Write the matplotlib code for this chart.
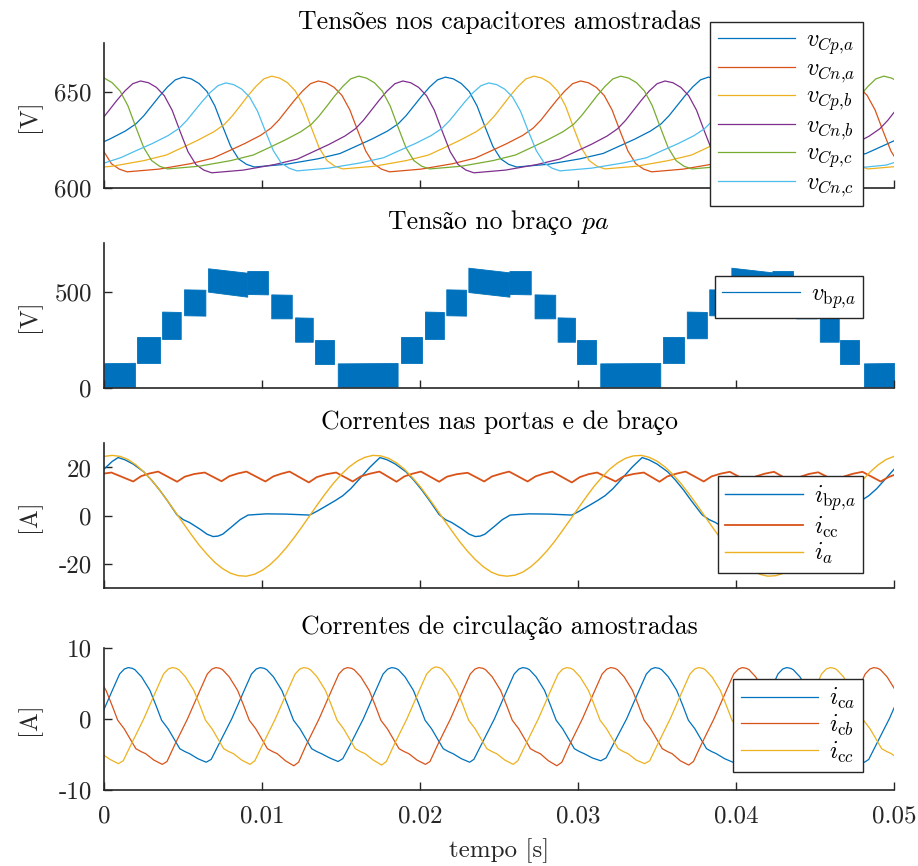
import numpy as np
import matplotlib
matplotlib.use("Agg")
import matplotlib.pyplot as plt
from matplotlib.lines import Line2D

# ---- data (time in ms) ----

# panel 1: capacitor voltages [V]
t_cpa = [-1.67, -0.67, 0.33, 1.33, 2.0, 2.5, 3.0, 3.5, 4.0, 4.5, 5.0, 5.5, 6.0, 6.5, 7.0, 7.5, 8.0, 8.5, 9.0, 9.5, 11.5, 13.5,
         14.93, 15.93, 16.93, 17.93, 18.6, 19.1, 19.6, 20.1, 20.6, 21.1, 21.6, 22.1, 22.6, 23.1, 23.6, 24.1, 24.6, 25.1, 25.6, 26.1, 28.1, 30.1,
         31.58, 32.58, 33.58, 34.58, 35.25, 35.75, 36.25, 36.75, 37.25, 37.75, 38.25, 38.75, 39.25, 39.75, 40.25, 40.75, 41.25, 41.75, 42.25, 42.75, 44.75, 46.75,
         48.23, 49.23, 50.23]
v_cpa = [618.0, 621.7, 625.4, 629.6, 633.3, 637.5, 642.6, 647.7, 652.4, 656.1, 657.5, 656.6, 654.2, 650.1, 642.6, 631.9, 621.7, 615.2, 612.4, 611.0, 612.4, 615.2,
         618.0, 621.7, 625.4, 629.6, 633.3, 637.5, 642.6, 647.7, 652.4, 656.1, 657.5, 656.6, 654.2, 650.1, 642.6, 631.9, 621.7, 615.2, 612.4, 611.0, 612.4, 615.2,
         618.0, 621.7, 625.4, 629.6, 633.3, 637.5, 642.6, 647.7, 652.4, 656.1, 657.5, 656.6, 654.2, 650.1, 642.6, 631.9, 621.7, 615.2, 612.4, 611.0, 612.4, 615.2,
         618.0, 621.7, 625.4]

t_cna = [-0.55, -0.05, 0.45, 0.95, 1.45, 3.45, 5.45,
         6.88, 7.88, 8.88, 9.88, 10.55, 11.05, 11.55, 12.05, 12.55, 13.05, 13.55, 14.05, 14.55, 15.05, 15.55, 16.05, 16.55, 17.05, 17.55, 18.05, 20.05, 22.05,
         23.48, 24.48, 25.48, 26.48, 27.15, 27.65, 28.15, 28.65, 29.15, 29.65, 30.15, 30.65, 31.15, 31.65, 32.15, 32.65, 33.15, 33.65, 34.15, 34.65, 36.65, 38.65,
         40.13, 41.13, 42.13, 43.13, 43.8, 44.3, 44.8, 45.3, 45.8, 46.3, 46.8, 47.3, 47.8, 48.3, 48.8, 49.3, 49.8, 50.3]
v_cna = [629.7, 619.3, 612.7, 609.9, 608.5, 609.9, 612.7,
         615.6, 619.3, 623.1, 627.3, 631.1, 635.3, 640.5, 645.6, 650.3, 654.1, 655.5, 654.6, 652.2, 648.0, 640.5, 629.7, 619.3, 612.7, 609.9, 608.5, 609.9, 612.7,
         615.6, 619.3, 623.1, 627.3, 631.1, 635.3, 640.5, 645.6, 650.3, 654.1, 655.5, 654.6, 652.2, 648.0, 640.5, 629.7, 619.3, 612.7, 609.9, 608.5, 609.9, 612.7,
         615.6, 619.3, 623.1, 627.3, 631.1, 635.3, 640.5, 645.6, 650.3, 654.1, 655.5, 654.6, 652.2, 648.0, 640.5, 629.7, 619.3, 612.7]

t_cpb = [-1.5, 0.5, 2.5,
         3.93, 4.93, 5.93, 6.93, 7.6, 8.1, 8.6, 9.1, 9.6, 10.1, 10.6, 11.1, 11.6, 12.1, 12.6, 13.1, 13.6, 14.1, 14.6, 15.1, 17.1, 19.1,
         20.53, 21.53, 22.53, 23.53, 24.2, 24.7, 25.2, 25.7, 26.2, 26.7, 27.2, 27.7, 28.2, 28.7, 29.2, 29.7, 30.2, 30.7, 31.2, 31.7, 33.7, 35.7,
         37.18, 38.18, 39.18, 40.18, 40.85, 41.35, 41.85, 42.35, 42.85, 43.35, 43.85, 44.35, 44.85, 45.35, 45.85, 46.35, 46.85, 47.35, 47.85, 48.35, 50.35]
v_cpb = [610.0, 611.4, 614.3,
         617.2, 621.0, 624.9, 629.2, 633.0, 637.4, 642.6, 647.9, 652.7, 656.6, 658.0, 657.0, 654.6, 650.3, 642.6, 631.6, 621.0, 614.3, 611.4, 610.0, 611.4, 614.3,
         617.2, 621.0, 624.9, 629.2, 633.0, 637.4, 642.6, 647.9, 652.7, 656.6, 658.0, 657.0, 654.6, 650.3, 642.6, 631.6, 621.0, 614.3, 611.4, 610.0, 611.4, 614.3,
         617.2, 621.0, 624.9, 629.2, 633.0, 637.4, 642.6, 647.9, 652.7, 656.6, 658.0, 657.0, 654.6, 650.3, 642.6, 631.6, 621.0, 614.3, 611.4, 610.0, 611.4]

t_cnb = [-1.37, -0.7, -0.2, 0.3, 0.8, 1.3, 1.8, 2.3, 2.8, 3.3, 3.8, 4.3, 4.8, 5.3, 5.8, 6.3, 6.8, 8.8, 10.8,
         12.23, 13.23, 14.23, 15.23, 15.9, 16.4, 16.9, 17.4, 17.9, 18.4, 18.9, 19.4, 19.9, 20.4, 20.9, 21.4, 21.9, 22.4, 22.9, 23.4, 25.4, 27.4,
         28.83, 29.83, 30.83, 31.83, 32.5, 33.0, 33.5, 34.0, 34.5, 35.0, 35.5, 36.0, 36.5, 37.0, 37.5, 38.0, 38.5, 39.0, 39.5, 40.0, 42.0, 44.0,
         45.43, 46.43, 47.43, 48.43, 49.1, 49.6, 50.1]
v_cnb = [627.0, 630.8, 635.1, 640.3, 645.5, 650.3, 654.1, 655.5, 654.6, 652.2, 647.9, 640.3, 629.4, 618.9, 612.3, 609.4, 608.0, 609.4, 612.3,
         615.1, 618.9, 622.7, 627.0, 630.8, 635.1, 640.3, 645.5, 650.3, 654.1, 655.5, 654.6, 652.2, 647.9, 640.3, 629.4, 618.9, 612.3, 609.4, 608.0, 609.4, 612.3,
         615.1, 618.9, 622.7, 627.0, 630.8, 635.1, 640.3, 645.5, 650.3, 654.1, 655.5, 654.6, 652.2, 647.9, 640.3, 629.4, 618.9, 612.3, 609.4, 608.0, 609.4, 612.3,
         615.1, 618.9, 622.7, 627.0, 630.8, 635.1, 640.3]

t_cpc = [-1.5, -1.0, -0.5, 0.0, 0.5, 1.0, 1.5, 2.0, 2.5, 3.0, 3.5, 4.0, 6.0, 8.0,
         9.43, 10.43, 11.43, 12.43, 13.1, 13.6, 14.1, 14.6, 15.1, 15.6, 16.1, 16.6, 17.1, 17.6, 18.1, 18.6, 19.1, 19.6, 20.1, 20.6, 22.6, 24.6,
         26.03, 27.03, 28.03, 29.03, 29.7, 30.2, 30.7, 31.2, 31.7, 32.2, 32.7, 33.2, 33.7, 34.2, 34.7, 35.2, 35.7, 36.2, 36.7, 37.2, 39.2, 41.2,
         42.68, 43.68, 44.68, 45.68, 46.35, 46.85, 47.35, 47.85, 48.35, 48.85, 49.35, 49.85, 50.35]
v_cpc = [652.7, 656.6, 658.0, 657.0, 654.6, 650.3, 642.6, 631.6, 621.0, 614.3, 611.4, 610.0, 611.4, 614.3,
         617.2, 621.0, 624.9, 629.2, 633.0, 637.4, 642.6, 647.9, 652.7, 656.6, 658.0, 657.0, 654.6, 650.3, 642.6, 631.6, 621.0, 614.3, 611.4, 610.0, 611.4, 614.3,
         617.2, 621.0, 624.9, 629.2, 633.0, 637.4, 642.6, 647.9, 652.7, 656.6, 658.0, 657.0, 654.6, 650.3, 642.6, 631.6, 621.0, 614.3, 611.4, 610.0, 611.4, 614.3,
         617.2, 621.0, 624.9, 629.2, 633.0, 637.4, 642.6, 647.9, 652.7, 656.6, 658.0, 657.0, 654.6]

t_cnc = [-2.4, -0.4,
         1.03, 2.03, 3.03, 4.03, 4.7, 5.2, 5.7, 6.2, 6.7, 7.2, 7.7, 8.2, 8.7, 9.2, 9.7, 10.2, 10.7, 11.2, 11.7, 12.2, 14.2, 16.2,
         17.68, 18.68, 19.68, 20.68, 21.35, 21.85, 22.35, 22.85, 23.35, 23.85, 24.35, 24.85, 25.35, 25.85, 26.35, 26.85, 27.35, 27.85, 28.35, 28.85, 30.85, 32.85,
         34.33, 35.33, 36.33, 37.33, 38.0, 38.5, 39.0, 39.5, 40.0, 40.5, 41.0, 41.5, 42.0, 42.5, 43.0, 43.5, 44.0, 44.5, 45.0, 45.5, 47.5, 49.5,
         50.98]
v_cnc = [609.6, 612.0,
         615.8, 619.5, 623.1, 627.2, 630.8, 634.9, 639.9, 644.9, 649.5, 653.1, 654.5, 653.6, 651.3, 647.2, 639.9, 629.5, 619.5, 613.1, 610.4, 609.0, 610.4, 613.1,
         615.8, 619.5, 623.1, 627.2, 630.8, 634.9, 639.9, 644.9, 649.5, 653.1, 654.5, 653.6, 651.3, 647.2, 639.9, 629.5, 619.5, 613.1, 610.4, 609.0, 610.4, 613.1,
         615.8, 619.5, 623.1, 627.2, 630.8, 634.9, 639.9, 644.9, 649.5, 653.1, 654.5, 653.6, 651.3, 647.2, 639.9, 629.5, 619.5, 613.1, 610.4, 609.0, 610.4, 612.0,
         615.8]

# panel 2: arm voltage, switching band per level (start/end time, lower and upper envelope)
vbp_t0 = [0.0, 2.1, 3.66, 5.05, 6.57, 9.05, 10.57, 12.08, 13.37, 14.78, 18.78, 20.3, 21.65, 23.05, 25.65, 27.24, 28.7, 29.95,
          31.4, 35.4, 36.88, 38.3, 39.7, 42.3, 43.8, 45.3, 46.6, 48.1]
vbp_t1 = [1.94, 3.5, 4.84, 6.4, 9.05, 10.36, 11.87, 13.2, 14.53, 18.57, 20.1, 21.5, 22.9, 25.65, 27.0, 28.55, 29.8, 31.13,
          35.2, 36.7, 38.15, 39.55, 42.3, 43.6, 45.1, 46.5, 47.8, 50.0]
vbp_lo0 = [8, 130, 255, 378, 500, 488, 362, 241, 124, 9, 130, 255, 378, 498, 488, 362, 241, 124, 9, 130, 259, 378, 498, 488, 362, 241, 124, 9]
vbp_lo1 = [8, 130, 255, 376, 474, 486, 362, 241, 124, 9, 130, 255, 376, 474, 486, 362, 241, 124, 9, 130, 259, 376, 474, 486, 362, 241, 124, 9]
vbp_hi0 = [130, 267, 397, 512, 621, 607, 486, 367, 250, 129, 267, 397, 512, 624, 607, 486, 367, 250, 129, 265, 397, 512, 624, 607, 486, 367, 250, 129]
vbp_hi1 = [132, 267, 395, 510, 598, 607, 484, 365, 250, 131, 267, 395, 510, 600, 607, 484, 365, 250, 131, 265, 395, 510, 600, 607, 484, 365, 250, 131]

# panel 3: port and arm currents [A]
t_ia = np.linspace(0, 50, 101)
i_a = [24.6, 25.0, 24.6, 23.3, 21.1, 18.2, 14.7, 10.7, 6.2, 1.6,
       -3.1, -7.7, -12.1, -15.9, -19.3, -21.9, -23.8, -24.8, -25.0, -24.2,
       -22.6, -20.2, -17.1, -13.4, -9.2, -4.7, 0.0, 4.7, 9.2, 13.4,
       17.1, 20.2, 22.6, 24.2, 25.0, 24.8, 23.8, 21.9, 19.3, 15.9,
       12.1, 7.7, 3.1, -1.6, -6.2, -10.7, -14.7, -18.2, -21.1, -23.3,
       -24.6, -25.0, -24.6, -23.3, -21.1, -18.2, -14.7, -10.7, -6.2, -1.6,
       3.1, 7.7, 12.1, 15.9, 19.3, 21.9, 23.8, 24.8, 25.0, 24.2,
       22.6, 20.2, 17.1, 13.4, 9.2, 4.7, 0.0, -4.7, -9.2, -13.4,
       -17.1, -20.2, -22.6, -24.2, -25.0, -24.8, -23.8, -21.9, -19.3, -15.9,
       -12.1, -7.7, -3.1, 1.6, 6.2, 10.7, 14.7, 18.2, 21.1, 23.3,
       24.6]

t_ibpa = [0.0, 0.5, 0.88, 1.3, 1.83, 2.5, 3.0, 3.5, 4.0, 4.6, 5.0, 5.4, 6.05, 6.5, 6.89, 7.2, 7.5, 8.15, 8.6, 9.1,
          10.25, 11.5, 13.0, 13.5, 14.05, 14.6, 15.1, 15.6, 16.15, 16.8, 17.45, 17.9, 18.43, 19.1, 19.6, 20.1, 20.6, 21.2, 21.6, 22.0,
          22.65, 23.1, 23.49, 23.8, 24.1, 24.75, 25.2, 25.7, 26.9, 28.2, 29.6, 30.1, 30.65, 31.2, 31.7, 32.2, 32.75, 33.4, 34.05, 34.47,
          35.0, 35.67, 36.17, 36.67, 37.17, 37.85, 38.3, 38.7, 39.35, 39.8, 40.19, 40.5, 40.8, 41.45, 41.9, 42.4, 43.6, 44.9, 46.3, 46.8,
          47.35, 47.9, 48.4, 48.9, 49.45, 50.1]
i_bpa = [19.4, 22.5, 24.1, 23.2, 21.4, 18.2, 14.7, 10.7, 6.2, 0.4, -1.6, -2.8, -5.5, -7.6, -8.6, -8.4, -7.6, -4.1, -1.6, 0.3,
         0.8, 0.7, 0.3, 2.0, 4.1, 6.2, 8.3, 11.2, 15.2, 20.0, 24.1, 23.2, 21.4, 18.2, 14.7, 10.7, 6.2, 0.5, -1.6, -2.8,
         -5.5, -7.6, -8.6, -8.4, -7.6, -4.1, -1.6, 0.3, 0.8, 0.7, 0.3, 2.0, 4.1, 6.2, 8.3, 11.2, 15.2, 20.0, 24.1, 23.2,
         21.4, 18.2, 14.7, 10.7, 6.2, 0.4, -1.6, -2.8, -5.5, -7.6, -8.6, -8.4, -7.6, -4.1, -1.6, 0.3, 0.8, 0.7, 0.3, 2.0,
         4.1, 6.2, 8.3, 11.2, 15.2, 20.0]

t_icc = [0.0, 0.45, 1.83, 2.33, 2.85, 3.41, 4.61, 5.1, 5.7, 6.36, 7.42, 7.92, 8.45, 9.0, 10.2, 10.7, 11.2, 11.73,
         12.95, 13.45, 14.05, 14.68, 15.73, 16.23, 16.8, 17.42, 18.5, 19.0, 19.5, 20.05, 21.2, 21.7, 22.3, 23.0,
         24.05, 24.55, 25.1, 25.63, 26.8, 27.3, 27.8, 28.36, 29.6, 30.1, 30.65, 31.2, 32.37, 32.87, 33.5, 34.16,
         35.15, 35.65, 36.2, 36.8, 37.95, 38.45, 39.0, 39.6, 40.75, 41.25, 41.8, 42.4, 43.55, 44.05, 44.6, 45.2,
         46.35, 46.85, 47.4, 48.0, 49.15, 49.65, 50.0]
i_cc = [17.5, 17.9, 14.2, 16.4, 17.5, 18.3, 14.1, 16.2, 17.3, 17.9, 14.3, 16.4, 17.5, 18.3, 14.2, 16.3, 17.4, 18.3,
        13.8, 16.0, 17.2, 17.9, 14.2, 16.3, 17.4, 18.3, 14.1, 16.3, 17.4, 18.3, 14.1, 16.2, 17.2, 17.8,
        14.2, 16.3, 17.4, 18.3, 14.2, 16.3, 17.4, 18.3, 13.8, 16.0, 17.2, 17.9, 14.2, 16.3, 17.3, 17.9,
        14.1, 16.3, 17.4, 18.3, 14.2, 16.3, 17.4, 18.2, 14.2, 16.3, 17.4, 18.2, 14.0, 16.1, 17.3, 18.0,
        14.2, 16.3, 17.4, 18.2, 14.2, 16.0, 16.9]

# panel 4: circulating currents [A]
t_ca = [-0.28, 0.47, 0.97, 1.27, 1.52, 1.77, 1.94, 2.36, 2.89, 3.27, 3.63, 4.04, 4.78, 5.10, 5.40, 5.92, 6.45,
        6.77, 7.27, 8.07, 8.82, 9.32, 9.62, 9.87, 10.12, 10.29, 10.71, 11.24, 11.62, 11.98, 12.39, 13.13, 13.45, 13.75, 14.27, 14.8,
        15.1, 15.6, 16.4, 17.15, 17.65, 17.95, 18.2, 18.45, 18.62, 19.04, 19.57, 19.95, 20.31, 20.72, 21.46, 21.78, 22.08, 22.6, 23.13,
        23.4, 23.9, 24.7, 25.45, 25.95, 26.25, 26.5, 26.75, 26.92, 27.34, 27.87, 28.25, 28.61, 29.02, 29.76, 30.08, 30.38, 30.9, 31.43,
        31.77, 32.27, 33.07, 33.82, 34.32, 34.62, 34.87, 35.12, 35.29, 35.71, 36.24, 36.62, 36.98, 37.39, 38.13, 38.45, 38.75, 39.27, 39.8,
        40.1, 40.6, 41.4, 42.15, 42.65, 42.95, 43.2, 43.45, 43.62, 44.04, 44.57, 44.95, 45.31, 45.72, 46.46, 46.78, 47.08, 47.6, 48.13,
        48.4, 48.9, 49.7, 50.45]
i_ca = [0.0, 3.8, 6.3, 7.0, 7.2, 7.1, 6.9, 5.9, 4.0, 1.9, -0.2, -1.4, -4.2, -4.6, -4.9, -5.6, -6.1,
        -5.7, -3.5, 0.0, 3.8, 6.3, 7.0, 7.2, 7.1, 6.9, 5.9, 4.0, 1.9, -0.2, -1.4, -4.2, -4.6, -4.9, -5.5, -6.0,
        -5.6, -3.5, 0.0, 3.8, 6.3, 7.0, 7.2, 7.1, 6.9, 5.9, 4.0, 1.9, -0.2, -1.4, -4.2, -4.6, -4.9, -5.6, -6.1,
        -5.7, -3.5, 0.0, 3.8, 6.3, 7.0, 7.2, 7.1, 6.9, 5.9, 4.0, 1.9, -0.2, -1.4, -4.2, -4.6, -4.9, -5.5, -5.9,
        -5.5, -3.4, 0.0, 3.8, 6.3, 7.0, 7.2, 7.1, 6.9, 5.9, 4.0, 1.9, -0.2, -1.4, -4.2, -4.6, -4.9, -5.6, -6.1,
        -5.7, -3.5, 0.0, 3.8, 6.3, 7.0, 7.2, 7.1, 6.9, 5.9, 4.0, 1.9, -0.2, -1.4, -4.2, -4.6, -4.9, -5.6, -6.1,
        -5.7, -3.5, 0.0, 3.8]

t_cb = [-0.42, 0.11, 0.49, 0.85, 1.26, 2.0, 2.32, 2.62, 3.14, 3.67,
        3.97, 4.47, 5.27, 6.02, 6.52, 6.82, 7.07, 7.32, 7.49, 7.91, 8.44, 8.82, 9.18, 9.59, 10.33, 10.65, 10.95, 11.47, 12.0,
        12.3, 12.8, 13.6, 14.35, 14.85, 15.15, 15.4, 15.65, 15.82, 16.24, 16.77, 17.15, 17.51, 17.92, 18.66, 18.98, 19.28, 19.8, 20.33,
        20.62, 21.12, 21.92, 22.67, 23.17, 23.47, 23.72, 23.97, 24.14, 24.56, 25.09, 25.47, 25.83, 26.24, 26.98, 27.3, 27.6, 28.12, 28.65,
        28.97, 29.47, 30.27, 31.02, 31.52, 31.82, 32.07, 32.32, 32.49, 32.91, 33.44, 33.82, 34.18, 34.59, 35.33, 35.65, 35.95, 36.47, 37.0,
        37.3, 37.8, 38.6, 39.35, 39.85, 40.15, 40.4, 40.65, 40.82, 41.24, 41.77, 42.15, 42.51, 42.92, 43.66, 43.98, 44.28, 44.8, 45.33,
        45.62, 46.12, 46.92, 47.67, 48.17, 48.47, 48.72, 48.97, 49.14, 49.56, 50.09]
i_cb = [5.9, 4.0, 1.9, -0.2, -1.4, -4.2, -4.6, -4.9, -5.8, -6.4,
        -6.0, -3.6, 0.0, 3.8, 6.3, 7.0, 7.2, 7.1, 6.9, 5.9, 4.0, 1.9, -0.2, -1.4, -4.2, -4.6, -4.9, -5.9, -6.6,
        -6.1, -3.6, 0.0, 3.8, 6.3, 7.0, 7.2, 7.1, 6.9, 5.9, 4.0, 1.9, -0.2, -1.4, -4.2, -4.6, -4.9, -5.8, -6.4,
        -6.0, -3.6, 0.0, 3.8, 6.3, 7.0, 7.2, 7.1, 6.9, 5.9, 4.0, 1.9, -0.2, -1.4, -4.2, -4.6, -4.9, -5.9, -6.6,
        -6.1, -3.6, 0.0, 3.8, 6.3, 7.0, 7.2, 7.1, 6.9, 5.9, 4.0, 1.9, -0.2, -1.4, -4.2, -4.6, -4.9, -5.9, -6.5,
        -6.0, -3.6, 0.0, 3.8, 6.3, 7.0, 7.2, 7.1, 6.9, 5.9, 4.0, 1.9, -0.2, -1.4, -4.2, -4.6, -4.9, -5.8, -6.4,
        -6.0, -3.6, 0.0, 3.8, 6.3, 7.0, 7.2, 7.1, 6.9, 5.9, 4.0]

t_ccirc = [-0.16, 0.36, 0.89,
           1.2, 1.7, 2.5, 3.25, 3.75, 4.05, 4.3, 4.55, 4.72, 5.14, 5.67, 6.05, 6.41, 6.82, 7.56, 7.88, 8.18, 8.7, 9.23,
           9.53, 10.03, 10.83, 11.58, 12.08, 12.38, 12.63, 12.88, 13.05, 13.47, 14.0, 14.38, 14.74, 15.15, 15.89, 16.21, 16.51, 17.03, 17.56,
           17.86, 18.36, 19.16, 19.91, 20.41, 20.71, 20.96, 21.21, 21.38, 21.8, 22.33, 22.71, 23.07, 23.48, 24.22, 24.54, 24.84, 25.36, 25.89,
           26.18, 26.68, 27.48, 28.23, 28.73, 29.03, 29.28, 29.53, 29.7, 30.12, 30.65, 31.03, 31.39, 31.8, 32.54, 32.86, 33.16, 33.68, 34.21,
           34.53, 35.03, 35.83, 36.58, 37.08, 37.38, 37.63, 37.88, 38.05, 38.47, 39.0, 39.38, 39.74, 40.15, 40.89, 41.21, 41.51, 42.03, 42.56,
           42.86, 43.36, 44.16, 44.91, 45.41, 45.71, 45.96, 46.21, 46.38, 46.8, 47.33, 47.71, 48.07, 48.48, 49.22, 49.54, 49.84, 50.36]
i_ccirc = [-4.9, -5.7, -6.3,
           -5.9, -3.6, 0.0, 3.8, 6.3, 7.0, 7.2, 7.1, 6.9, 5.9, 4.0, 1.9, -0.2, -1.4, -4.2, -4.6, -4.9, -5.8, -6.4,
           -5.9, -3.6, 0.0, 3.8, 6.3, 7.0, 7.2, 7.1, 6.9, 5.9, 4.0, 1.9, -0.2, -1.4, -4.2, -4.6, -4.9, -5.8, -6.5,
           -6.0, -3.6, 0.0, 3.8, 6.3, 7.0, 7.3, 7.2, 7.0, 5.9, 4.0, 1.9, -0.2, -1.4, -4.2, -4.6, -4.9, -5.8, -6.4,
           -5.9, -3.6, 0.0, 3.8, 6.3, 7.0, 7.2, 7.1, 6.9, 5.9, 4.0, 1.9, -0.2, -1.4, -4.2, -4.6, -4.9, -5.8, -6.3,
           -5.9, -3.6, 0.0, 3.8, 6.3, 7.0, 7.2, 7.1, 6.9, 5.9, 4.0, 1.9, -0.2, -1.4, -4.2, -4.6, -4.9, -5.8, -6.3,
           -5.9, -3.6, 0.0, 3.8, 6.3, 7.0, 7.2, 7.1, 6.9, 5.9, 4.0, 1.9, -0.2, -1.4, -4.2, -4.6, -4.9, -5.8]

x_ticks = [0, 0.01, 0.02, 0.03, 0.04, 0.05]
x_ticklabels = ['0', '0.01', '0.02', '0.03', '0.04', '0.05']

titles = ['Tensões nos capacitores amostradas', ('Tensão no braço ', '$pa$'),
          'Correntes nas portas e de braço', 'Correntes de circulação amostradas']

BLUE, RED, YELLOW = '#0072BD', '#D95319', '#EDB120'
PURPLE, GREEN, CYAN = '#7E2F8E', '#77AC30', '#4DBEEE'
AXC = '#262626'
TITLE_SIZE = 18.5


def sec(t):
    return np.asarray(t) / 1000.0


def style(ax, yticks, ylim, ylabel, title=None):
    ax.set_xlim(0, 0.05)
    ax.set_ylim(*ylim)
    ax.set_xticks(x_ticks)
    ax.set_yticks(yticks)
    ax.set_yticklabels([str(v) for v in yticks])
    for s in ['top', 'right']:
        ax.spines[s].set_visible(False)
    for s in ['left', 'bottom']:
        ax.spines[s].set_color(AXC)
        ax.spines[s].set_linewidth(1.2)
    ax.tick_params(direction='in', length=6, width=1, colors=AXC, labelsize=18)
    ax.tick_params(axis='x', pad=11)
    ax.tick_params(axis='y', pad=9)
    ax.set_ylabel(ylabel, fontsize=18, color=AXC)
    ax.yaxis.set_label_coords(-0.08, 0.5)
    if title is not None:
        ax.set_title(title, fontsize=TITLE_SIZE, pad=10)


def split_title(fig, ax, plain, math, pad_pt=10):
    # plain text in the roman font, the math part in math italic, centred together
    r = fig.canvas.get_renderer()
    W, H = fig.bbox.width, fig.bbox.height
    a = fig.text(0, 0, plain, fontsize=TITLE_SIZE, va='baseline', ha='left')
    b = fig.text(0, 0, math, fontsize=TITLE_SIZE, va='baseline', ha='left')
    wa = a.get_window_extent(r).width
    wb = b.get_window_extent(r).width
    box = ax.get_window_extent(r)
    cx = 0.5 * (box.x0 + box.x1)
    yb = box.y1 + pad_pt * fig.dpi / 72.0
    x0 = cx - 0.5 * (wa + wb)
    a.set_position((x0 / W, yb / H))
    b.set_position(((x0 + wa) / W, yb / H))


def legend(ax, fig, anchor, **kw):
    leg = ax.legend(loc='upper right', bbox_to_anchor=anchor, bbox_transform=fig.transFigure,
                    borderaxespad=0, fontsize=17.5, handlelength=3.2, handletextpad=0.45,
                    labelspacing=0.06, borderpad=0.3, fancybox=False, framealpha=1,
                    edgecolor=AXC, **kw)
    leg.get_frame().set_linewidth(1.0)
    return leg


def main():
    plt.rcParams['font.family'] = ['cmr10', 'STIXGeneral']
    plt.rcParams['mathtext.fontset'] = 'cm'
    plt.rcParams['axes.unicode_minus'] = False
    plt.rcParams['axes.formatter.use_mathtext'] = True

    fig = plt.figure(figsize=(9.18, 8.66), dpi=100)
    left, width = 0.1136, 0.8603
    ax1 = fig.add_axes([left, 0.7826, width, 0.1674])
    ax2 = fig.add_axes([left, 0.5516, width, 0.1674])
    ax3 = fig.add_axes([left, 0.3207, width, 0.1674])
    ax4 = fig.add_axes([left, 0.0878, width, 0.1643])

    # capacitor voltages
    lw = 0.9
    ax1.plot(sec(t_cpa), v_cpa, color=BLUE, lw=lw, label='$v_{Cp{,}a}$')
    ax1.plot(sec(t_cna), v_cna, color=RED, lw=lw, label='$v_{Cn{,}a}$')
    ax1.plot(sec(t_cpb), v_cpb, color=YELLOW, lw=lw, label='$v_{Cp{,}b}$')
    ax1.plot(sec(t_cnb), v_cnb, color=PURPLE, lw=lw, label='$v_{Cn{,}b}$')
    ax1.plot(sec(t_cpc), v_cpc, color=GREEN, lw=lw, label='$v_{Cp{,}c}$')
    ax1.plot(sec(t_cnc), v_cnc, color=CYAN, lw=lw, label='$v_{Cn{,}c}$')
    style(ax1, [600, 650], (600, 675), '[V]', titles[0])
    ax1.set_xticklabels([])
    legend(ax1, fig, (0.9401, 0.9746))

    # arm voltage (switching band)
    for k in range(len(vbp_t0)):
        ax2.fill_between(sec([vbp_t0[k], vbp_t1[k]]), [vbp_lo0[k], vbp_lo1[k]],
                         [vbp_hi0[k], vbp_hi1[k]], color=BLUE, lw=0.6, edgecolor=BLUE)
    style(ax2, [0, 500], (0, 750), '[V]')
    ax2.set_xticklabels([])
    legend(ax2, fig, (0.9401, 0.6813),
           handles=[Line2D([], [], color=BLUE, lw=lw)], labels=[r'$v_{\mathrm{b}p{,}a}$'])

    # port and arm currents
    ax3.plot(sec(t_ibpa), i_bpa, color=BLUE, lw=1.0, label=r'$i_{\mathrm{b}p{,}a}$')
    ax3.plot(sec(t_icc), i_cc, color=RED, lw=1.3, label=r'$i_{\mathrm{cc}}$')
    ax3.plot(sec(t_ia), i_a, color=YELLOW, lw=1.0, label='$i_a$')
    style(ax3, [-20, 0, 20], (-30, 30), '[A]', titles[2])
    ax3.set_xticklabels([])
    legend(ax3, fig, (0.9401, 0.4503))

    # circulating currents
    ax4.plot(sec(t_ca), i_ca, color=BLUE, lw=lw, label=r'$i_{\mathrm{c}a}$')
    ax4.plot(sec(t_cb), i_cb, color=RED, lw=lw, label=r'$i_{\mathrm{c}b}$')
    ax4.plot(sec(t_ccirc), i_ccirc, color=YELLOW, lw=lw, label=r'$i_{\mathrm{c}c}$')
    style(ax4, [-10, 0, 10], (-10, 10), '[A]', titles[3])
    ax4.set_xticklabels(x_ticklabels)
    ax4.set_xlabel('tempo [s]', fontsize=18, color=AXC)
    ax4.xaxis.set_label_coords(0.5, -0.34)
    legend(ax4, fig, (0.9401, 0.2159))

    split_title(fig, ax2, titles[1][0], titles[1][1])

    fig.savefig('out.png', dpi=100)


if __name__ == '__main__':
    main()
